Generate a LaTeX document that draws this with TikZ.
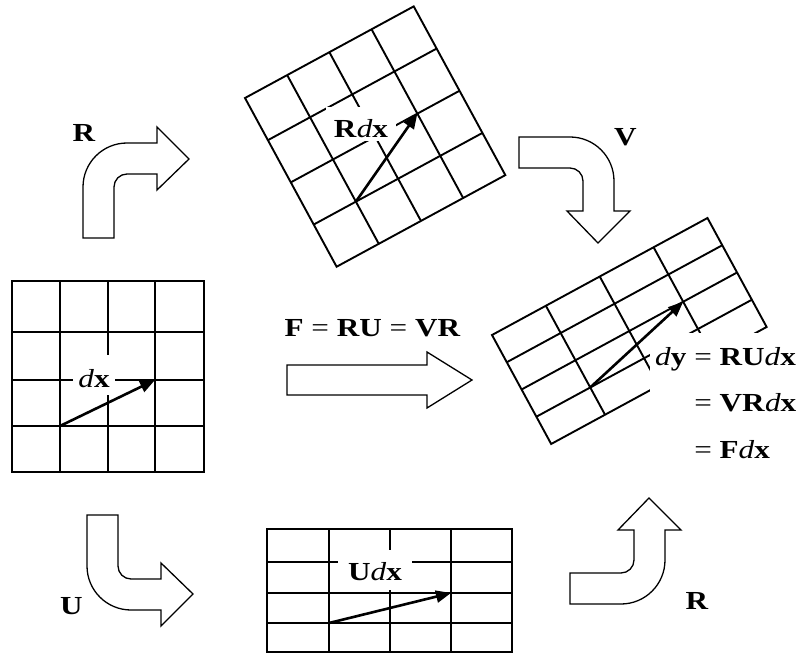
\documentclass[tikz,border=0pt]{standalone}
\usepackage{fontspec}
\setmainfont{Liberation Serif}[FakeStretch=1.2]
\usetikzlibrary{arrows.meta}
\tikzset{
  gline/.style={line width=1.9pt},
  vec/.style={line width=2.6pt,-{Triangle[length=15pt,width=12pt]}},
  blk/.style={draw,line width=1.3pt,fill=white,line join=miter},
  lbl/.style={font=\fontsize{26}{31}\selectfont,inner sep=0pt,anchor=base},
  wlab/.style={lbl,fill=white}
}
\newcommand\turnarrowpath{%
  \draw[blk] (0,0) -- (0,-51) .. controls (0,-75.3) and (19.7,-95) .. (44,-95)
    -- (74,-95) -- (74,-111) -- (106,-79) -- (74,-48) -- (74,-64) -- (44,-64)
    .. controls (36.8,-64) and (31,-58.2) .. (31,-51) -- (31,0) -- cycle;}
\begin{document}
\begin{tikzpicture}[x=1pt,y=-1pt]
\useasboundingbox (0,0) rectangle (801,655);

% ---------- grid 1 (dx) ----------
\draw[gline] (12,281) rectangle (204,472);
\foreach \x in {60,108,155} \draw[gline] (\x,281) -- (\x,472);
\foreach \y in {332,380,426} \draw[gline] (12,\y) -- (204,\y);
\coordinate (v1s) at (60,426);
\coordinate (v1e) at (155,380);
\node[wlab,text height=32pt,text depth=8pt,inner xsep=5.5pt] (l1) at (94,387) {\textit{d}\textbf{x}};
\draw[vec] (v1s) -- (v1e);

% ---------- grid 2 (R dx) ----------
\begin{scope}[shift={(245,98)},rotate=28.5]
  \draw[gline] (0,0) rectangle (192,192);
  \foreach \i in {48,96,144} {
    \draw[gline] (\i,0) -- (\i,192);
    \draw[gline] (0,\i) -- (192,\i);
  }
  \coordinate (v2s) at (48,144);
  \coordinate (v2e) at (144,96);
\end{scope}
\node[wlab,text height=31pt,text depth=3pt,inner xsep=8pt] (l2) at (361,138) {\textbf{R}\textit{d}\textbf{x}};
\draw[vec] (v2s) -- (v2e);

% ---------- grid 4 (U dx) ----------
\draw[gline] (267,529) rectangle (512,652);
\foreach \x in {329,390,451} \draw[gline] (\x,529) -- (\x,652);
\foreach \y in {562,593,623} \draw[gline] (267,\y) -- (512,\y);
\coordinate (v4s) at (329,623);
\coordinate (v4e) at (451,593);
\node[wlab,text height=30pt,text depth=10pt,inner xsep=10.5pt] (l4) at (375,580) {\textbf{U}\textit{d}\textbf{x}};
\draw[vec] (v4s) -- (v4e);

% ---------- grid 3 (dy) ----------
\begin{scope}[shift={(492,335)},rotate=28.5]
  \draw[gline] (0,0) rectangle (245.2,124);
  \foreach \i in {61.3,122.6,183.9} \draw[gline] (\i,0) -- (\i,124);
  \foreach \j in {31,62,93} \draw[gline] (0,\j) -- (245.2,\j);
  \coordinate (v3s) at (61.3,93);
  \coordinate (v3e) at (183.9,62);
\end{scope}
\node[fill=white,inner xsep=5pt,inner ysep=0pt,anchor=north west,
      font=\fontsize{26}{46.5}\selectfont] (eq) at (650,332.5)
  {\begin{tabular}{@{}r@{}l@{}}
    \textit{d}\textbf{y} & \ = \textbf{RU}\textit{d}\textbf{x}\\
     & \ = \textbf{VR}\textit{d}\textbf{x}\\
     & \ = \textbf{F}\textit{d}\textbf{x}
   \end{tabular}};
\draw[vec] (v3s) -- (v3e);

% ---------- block arrows ----------
\begin{scope}[shift={(83,238)}] \turnarrowpath \end{scope}
\begin{scope}[shift={(519,137)},rotate=-90] \turnarrowpath \end{scope}
\begin{scope}[shift={(87,515)},yscale=-1] \turnarrowpath \end{scope}
\begin{scope}[shift={(570,604)},cm={0,1,1,0,(0,0)}] \turnarrowpath \end{scope}
\draw[blk] (287,365) -- (427,365) -- (427,352) -- (472,380) -- (427,408)
  -- (427,395) -- (287,395) -- cycle;

% ---------- labels ----------
\node[lbl] (tR) at (84,142) {\textbf{R}};
\node[lbl] (tV) at (625.5,146) {\textbf{V}};
\node[lbl] (tU) at (71.5,614) {\textbf{U}};
\node[lbl] (bR) at (697,609) {\textbf{R}};
\node[lbl] (tF) at (372.5,336) {\textbf{F} = \textbf{RU} = \textbf{VR}};
\end{tikzpicture}
\end{document}
